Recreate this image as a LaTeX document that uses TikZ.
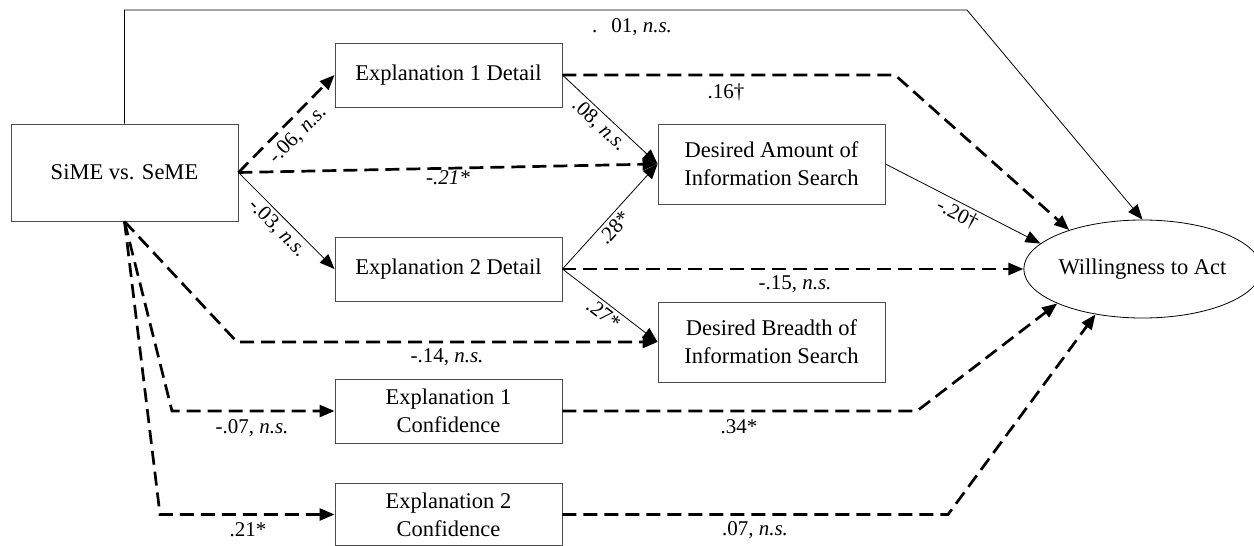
\documentclass[tikz,border=0pt]{standalone}
\usepackage{fontspec}
\setmainfont{Liberation Serif}
\usetikzlibrary{arrows.meta,shapes.geometric}
\begin{document}
\begin{tikzpicture}[x=1pt,y=-1pt,
  box/.style={draw=black!70, line width=0.9pt, minimum width=227pt, align=center, inner sep=0pt, font=\fontsize{22.5}{28}\selectfont},
  dsh/.style={line width=2.7pt, dash pattern=on 14pt off 7pt, -{Triangle[length=15pt,width=12pt]}},
  sol/.style={line width=0.8pt, -{Triangle[length=15pt,width=12pt]}},
  lab/.style={font=\fontsize{21}{24}\selectfont, inner sep=1pt}]
\useasboundingbox (0,0) rectangle (1254,546);

\node[box, minimum height=97pt] (sime) at (124.5,172.5) {SiME vs. SeME};
\node[box, minimum height=64pt] (e1d) at (448.5,75) {Explanation 1 Detail};
\node[box, minimum height=64pt] (e2d) at (448.5,269) {Explanation 2 Detail};
\node[box, minimum height=80pt] (amt) at (771.5,164) {Desired Amount of\\Information Search};
\node[box, minimum height=80pt] (brd) at (771.5,342) {Desired Breadth of\\Information Search};
\node[box, minimum height=64pt] (e1c) at (448.5,411) {Explanation 1\\Confidence};
\node[box, minimum height=62pt] (e2c) at (448.5,514.5) {Explanation 2\\Confidence};
\node[draw, line width=0.8pt, ellipse, minimum width=221pt, minimum height=98pt, inner sep=0pt, font=\fontsize{22.5}{28}\selectfont] (will) at (1142.5,269) {Willingness to Act};

% bend points
\coordinate (t1) at (124.5,10);
\coordinate (t2) at (967,10);
\coordinate (b1) at (895,75);
\coordinate (c1) at (237,342);
\coordinate (c2) at (172,411);
\coordinate (c3) at (160,514.5);
\coordinate (c4) at (917,411);
\coordinate (c5) at (948,514.5);

% connectors
\draw[sol] (sime.north) -- (t1) -- (t2) -- (will.north);
\draw[dsh] (e1d.east) -- (b1) -- (will.152);
\draw[dsh] (sime.east) -- node[lab, sloped, below=5pt, pos=0.5] {-.06, \textit{n.s.}} (e1d.west);
\draw[dsh] (sime.east) -- node[lab, below, pos=0.5] {\textit{-.21*}} (amt.west);
\draw[sol] (sime.east) -- node[lab, sloped, below=2pt, pos=0.49] {-.03, \textit{n.s.}} (e2d.west);
\draw[sol] (e1d.east) -- node[lab, sloped, below=2pt, pos=0.47] {.08, \textit{n.s.}} (amt.west);
\draw[sol] (e2d.east) -- node[lab, sloped, below=2pt, pos=0.46] {.28*} (amt.west);
\draw[sol] (e2d.east) -- node[lab, sloped, below=2pt, pos=0.5] {.27*} (brd.west);
\draw[dsh] (e2d.east) -- (will.west);
\draw[sol] (amt.east) -- node[lab, sloped, below=2pt, pos=0.5] {-.20†} (will.166);
\draw[dsh] (sime.south) -- (c1) -- (brd.west);
\draw[dsh] (sime.south) -- (c2) -- (e1c.west);
\draw[dsh] (sime.south) -- (c3) -- (e2c.west);
\draw[dsh] (e1c.east) -- (c4) -- (will.202.5);
\draw[dsh] (e2c.east) -- (c5) -- (will.224);

% labels
\node[lab] (l01) at (632,27) {.\hspace{14pt}01, \textit{n.s.}};
\node[lab] (l16) at (726,92) {.16†};
\node[lab] (l15) at (795,284) {-.15, \textit{n.s.}};
\node[lab] (l14) at (447,357) {-.14, \textit{n.s.}};
\node[lab] (l07a) at (252,428) {-.07, \textit{n.s.}};
\node[lab] (l21) at (248,530) {.21*};
\node[lab] (l34) at (739,427) {.34*};
\node[lab] (l07b) at (755,530) {.07, \textit{n.s.}};
\end{tikzpicture}
\end{document}
